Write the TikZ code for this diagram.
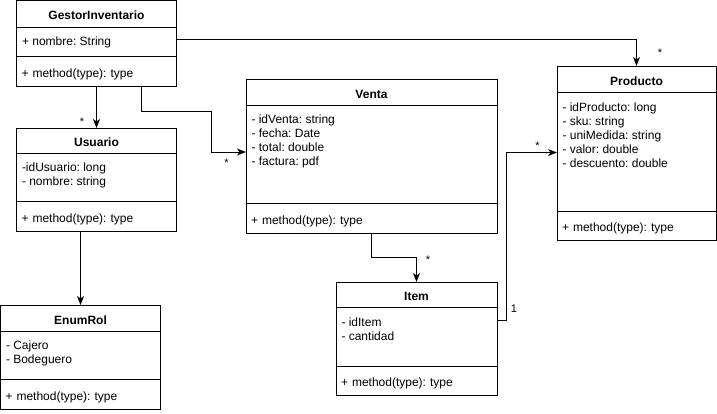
\documentclass[tikz,border=0pt]{standalone}
\usepackage{fontspec}
\setmainfont{Liberation Sans}
\usetikzlibrary{arrows.meta,calc}
\frenchspacing

\begin{document}
\begin{tikzpicture}[x=1pt,y=-1pt,line width=1pt,
    umltitle/.style={draw, anchor=north west, inner sep=0pt, outer sep=0pt, text height=12pt, text depth=0pt, font=\fontsize{12}{14}\selectfont\bfseries},
    umlfields/.style={draw, anchor=north west, inner sep=0pt, outer sep=0pt},
    umlmeth/.style={draw, anchor=north west, inner xsep=5pt, inner ysep=0pt, outer sep=0pt, align=left, text height=12pt, text depth=0pt, font=\fontsize{12}{14}\selectfont},
    umltext/.style={anchor=north west, inner sep=0pt, align=left, font=\fontsize{12}{14}\selectfont},
    mult/.style={anchor=base, inner sep=0pt, font=\fontsize{11}{13}\selectfont},
    assoc/.style={-{Stealth[length=9pt,width=7pt,inset=2.5pt]}}]
    \useasboundingbox (0,0) rectangle (717,413);

    % Drawing class GestorInventario
    \node [umltitle, minimum width=160pt, minimum height=26.5pt] (gestor) at (16.5,0.5) {GestorInventario};%
    \node [umlfields, minimum width=160pt, minimum height=29pt] (gestor-f) at (gestor.south west) {};%
    \node [umlmeth, text width=150pt, minimum height=30pt] (gestor-m) at (gestor-f.south west) {+ method(type): type};%
    \node [umltext] (gestor-ft) at ($(gestor-f.north west)+(5,9)$) {+ nombre: String};%

    % Drawing class Usuario
    \node [umltitle, minimum width=160pt, minimum height=25pt] (usuario) at (16.5,128) {Usuario};%
    \node [umlfields, minimum width=160pt, minimum height=48pt] (usuario-f) at (usuario.south west) {};%
    \node [umlmeth, text width=150pt, minimum height=30pt] (usuario-m) at (usuario-f.south west) {+ method(type): type};%
    \node [umltext] (usuario-ft) at ($(usuario-f.north west)+(5,9.5)$) {-idUsuario: long\\- nombre: string};%

    % Drawing class EnumRol
    \node [umltitle, minimum width=160pt, minimum height=26pt] (enumrol) at (0.5,305) {EnumRol};%
    \node [umlfields, minimum width=160pt, minimum height=48pt] (enumrol-f) at (enumrol.south west) {};%
    \node [umlmeth, text width=150pt, minimum height=30pt] (enumrol-m) at (enumrol-f.south west) {+ method(type): type};%
    \node [umltext] (enumrol-ft) at ($(enumrol-f.north west)+(5,9.5)$) {- Cajero\\- Bodeguero};%

    % Drawing class Venta
    \node [umltitle, minimum width=251pt, minimum height=25.5pt] (venta) at (246,79.5) {Venta};%
    \node [umlfields, minimum width=251pt, minimum height=98pt] (venta-f) at (venta.south west) {};%
    \node [umlmeth, text width=241pt, minimum height=30pt] (venta-m) at (venta-f.south west) {+ method(type): type};%
    \node [umltext] (venta-ft) at ($(venta-f.north west)+(5,9.5)$) {- idVenta: string\\- fecha: Date\\- total: double\\- factura: pdf};%

    % Drawing class Item
    \node [umltitle, minimum width=161pt, minimum height=25.5pt] (item) at (336,282) {Item};%
    \node [umlfields, minimum width=161pt, minimum height=58.5pt] (item-f) at (item.south west) {};%
    \node [umlmeth, text width=151pt, minimum height=29.5pt] (item-m) at (item-f.south west) {+ method(type): type};%
    \node [umltext] (item-ft) at ($(item-f.north west)+(5,9.5)$) {- idItem\\- cantidad};%

    % Drawing class Producto
    \node [umltitle, minimum width=159pt, minimum height=26.5pt] (prod) at (557,66) {Producto};%
    \node [umlfields, minimum width=159pt, minimum height=118.5pt] (prod-f) at (prod.south west) {};%
    \node [umlmeth, text width=149pt, minimum height=29pt] (prod-m) at (prod-f.south west) {+ method(type): type};%
    \node [umltext] (prod-ft) at ($(prod-f.north west)+(5,9.5)$) {- idProducto: long\\- sku: string\\- uniMedida: string\\- valor: double\\- descuento: double};%

    % Drawing association GestorInventario Producto
    \draw [assoc] ($(gestor-f.north east)+(0,12.5)$) -| (prod.north);%
    \node [mult] (m-prod) at (660,56) {*};%

    % Drawing association GestorInventario Usuario
    \draw [assoc] (gestor-m.south) -- (usuario.north);%
    \node [mult] (m-usuario) at (82,125) {*};%

    % Drawing association GestorInventario Venta
    \coordinate (gv) at (211,111);
    \draw [assoc] ($(gestor-m.south west)+(125,0)$) |- (gv) |- ($(venta-f.north west)+(0,47)$);%
    \node [mult] (m-venta) at (226.5,166) {*};%

    % Drawing association Usuario EnumRol
    \draw [assoc] (usuario-m.south -| enumrol.north) -- (enumrol.north);%

    % Drawing association Venta Item
    \draw [assoc] (venta-m.south) -- ++(0,24) -| (item.north);%
    \node [mult] (m-item) at (428,263) {*};%

    % Drawing association Item Producto
    \coordinate (ip) at ($(prod-f.north west)+(0,60)$);
    \draw [assoc] ($(item-f.north east)+(0,12.5)$) -| ($(ip)+(-50.5,0)$) -- (ip);%
    \node [mult] (m-one) at (514,312) {1};%
    \node [mult] (m-prodl) at (537.5,149) {*};%
\end{tikzpicture}
\end{document}
